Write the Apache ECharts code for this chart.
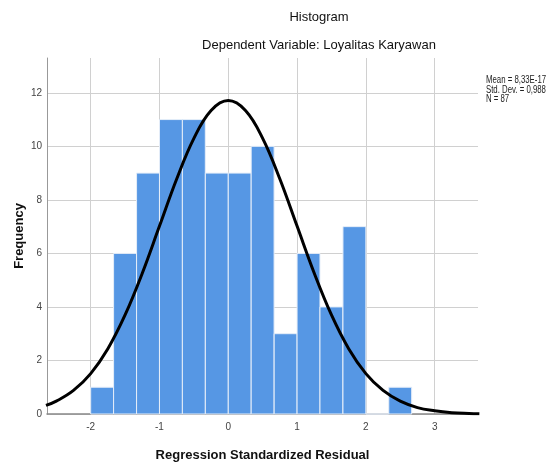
<!DOCTYPE html>
<html>
<head>
<meta charset="utf-8">
<script src="https://cdn.jsdelivr.net/npm/echarts@6/dist/echarts.min.js"></script>
<style>
  html, body { margin: 0; padding: 0; background: #fff; }
  #chart { width: 548px; height: 464px; }
</style>
</head>
<body>
<div id="chart"></div>
<script>
// histogram bins (left edge of each bin, width 1/3)
const binStart = [-2, -1.667, -1.333, -1, -0.667, -0.333, 0, 0.333, 0.667, 1, 1.333, 1.667, 2, 2.333]
const binWidth = 0.333
const counts = [1, 6, 9, 11, 11, 9, 9, 10, 3, 6, 4, 7, 0, 1]

// normal curve
const curveX = [-2.65, -2.5, -2.25, -2, -1.75, -1.5, -1.25, -1, -0.75, -0.5, -0.25, 0, 0.25, 0.5, 0.75, 1, 1.25, 1.5, 1.75, 2, 2.25, 2.5, 2.75, 3, 3.25, 3.5, 3.65]
const curveY = [0.32, 0.48, 0.88, 1.51, 2.44, 3.70, 5.26, 7.02, 8.78, 10.30, 11.34, 11.71, 11.34, 10.30, 8.78, 7.02, 5.26, 3.70, 2.44, 1.51, 0.88, 0.48, 0.24, 0.12, 0.05, 0.02, 0.01]

const statLines = ['Mean = 8,33E-17', 'Std. Dev. = 0,988', 'N = 87']

const barData = binStart.map((x, i) => [x, x + binWidth, counts[i]])
const lineData = curveX.map((x, i) => [x, curveY[i]])

const font = 'Liberation Sans, Arial, sans-serif'
const chart = echarts.init(document.getElementById('chart'))

chart.setOption({
  animation: false,
  grid: { left: 47, right: 70, top: 58, bottom: 50, outerBoundsMode: 'none' },
  graphic: [
    {
      type: 'text', x: 319, y: 17,
      style: { text: 'Histogram', font: '13px ' + font, fill: '#111', textAlign: 'center', textVerticalAlign: 'middle' }
    },
    {
      type: 'text', x: 319, y: 45,
      style: { text: 'Dependent Variable: Loyalitas Karyawan', font: '13px ' + font, fill: '#111', textAlign: 'center', textVerticalAlign: 'middle' }
    },
    {
      // condensed look of the stats box
      type: 'text', x: 486, y: 90, scaleX: 0.78,
      style: { text: statLines.join('\n'), font: '10px ' + font, lineHeight: 9.5, fill: '#222', textAlign: 'left', textVerticalAlign: 'middle' }
    }
  ],
  xAxis: {
    type: 'value',
    min: -2.635,
    max: 3.63,
    minInterval: 1,
    maxInterval: 1,
    name: 'Regression Standardized Residual',
    nameLocation: 'middle',
    nameGap: 35,
    nameMoveOverlap: false,
    nameTextStyle: { fontFamily: font, fontSize: 13, fontWeight: 'bold', color: '#111' },
    axisLine: { show: true, onZero: false, lineStyle: { color: '#888', width: 1.5 } },
    axisTick: { show: false },
    axisLabel: { showMinLabel: false, showMaxLabel: false, margin: 8, fontFamily: font, fontSize: 10, color: '#444' },
    splitLine: { show: true, showMaxLine: false, lineStyle: { color: '#d0d0d0', width: 1 } }
  },
  yAxis: {
    type: 'value',
    min: 0,
    max: 13.3,
    interval: 2,
    name: 'Frequency',
    nameLocation: 'middle',
    nameRotate: 90,
    nameGap: 21,
    nameMoveOverlap: false,
    nameTextStyle: { fontFamily: font, fontSize: 13, fontWeight: 'bold', color: '#111' },
    axisLine: { show: true, onZero: false, lineStyle: { color: '#999', width: 1 } },
    axisTick: { show: false },
    axisLabel: { showMaxLabel: false, margin: 5, fontFamily: font, fontSize: 10, color: '#444' },
    splitLine: { show: true, showMaxLine: false, lineStyle: { color: '#d0d0d0', width: 1 } }
  },
  series: [
    {
      type: 'custom',
      data: barData,
      encode: { x: [0, 1], y: 2 },
      renderItem: function (params, api) {
        const p0 = api.coord([api.value(0), api.value(2)])
        const p1 = api.coord([api.value(1), 0])
        return {
          type: 'rect',
          shape: { x: p0[0], y: p0[1], width: p1[0] - p0[0], height: p1[1] - p0[1] },
          style: { fill: '#5697e4', stroke: '#e6eef9', lineWidth: 1 }
        }
      },
      z: 2
    },
    {
      type: 'line',
      data: lineData,
      smooth: 0.4,
      showSymbol: false,
      lineStyle: { color: '#000', width: 3 },
      z: 3
    }
  ]
})
</script>
</body>
</html>
